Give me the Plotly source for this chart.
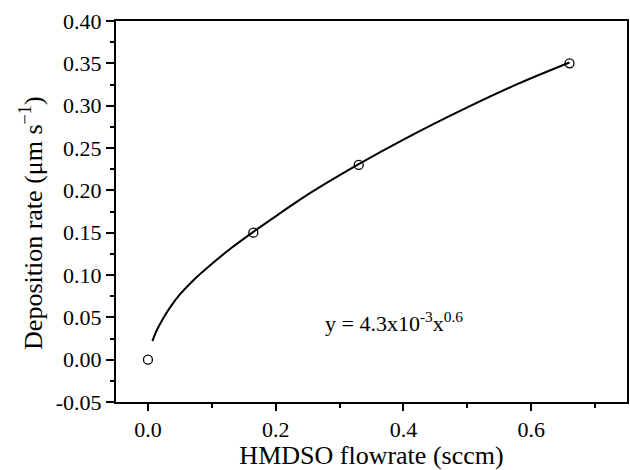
import plotly.graph_objects as go

# measured data points
flow = [0.0, 0.165, 0.33, 0.66]
rate = [0.0, 0.15, 0.23, 0.35]

# fit curve
fit_x = [0.007, 0.014, 0.024, 0.035, 0.05, 0.07, 0.092, 0.129, 0.165, 0.207, 0.25, 0.33, 0.40, 0.50, 0.58, 0.66]
fit_y = [0.022, 0.035, 0.049, 0.062, 0.077, 0.093, 0.108, 0.131, 0.151, 0.173, 0.195, 0.231, 0.260, 0.298, 0.326, 0.351]

x_ticks = [0.0, 0.2, 0.4, 0.6]
x_labels = ["0.0", "0.2", "0.4", "0.6"]
y_ticks = [-0.05, 0.0, 0.05, 0.10, 0.15, 0.20, 0.25, 0.30, 0.35, 0.40]
y_labels = ["-0.05", "0.00", "0.05", "0.10", "0.15", "0.20", "0.25", "0.30", "0.35", "0.40"]

font = "Liberation Serif, Times New Roman, serif"

fig = go.Figure()
fig.add_trace(go.Scatter(x=fit_x, y=fit_y, mode="lines",
                         line=dict(color="black", width=2, shape="spline", smoothing=1),
                         showlegend=False, hoverinfo="skip"))
fig.add_trace(go.Scatter(x=flow, y=rate, mode="markers",
                         marker=dict(symbol="circle-open", size=9, color="black",
                                     line=dict(width=1.3, color="black")),
                         showlegend=False))

fig.add_annotation(x=0.385, y=0.045, xref="x", yref="y", xanchor="center", yanchor="middle",
                   text="y = 4.3x10<sup>-3</sup>x<sup>0.6</sup>", showarrow=False,
                   font=dict(family=font, size=22, color="black"))

# y-axis title (placed as a rotated annotation to match the reference position)
fig.add_annotation(x=(32 - 116) / (630 - 116 - 3), y=0.47, xref="paper", yref="paper",
                   xanchor="center", yanchor="middle",
                   text="Deposition rate (μm s<sup>−1</sup>)", showarrow=False, textangle=-90,
                   font=dict(family=font, size=26, color="black"))

axis_common = dict(showgrid=False, zeroline=False, showline=True, linecolor="black",
                   linewidth=2, mirror=True, ticks="outside", tickcolor="black",
                   tickwidth=2, automargin=False,
                   tickfont=dict(family=font, size=22, color="black"))

fig.update_xaxes(range=[-0.05, 0.75], tickvals=x_ticks, ticktext=x_labels, ticklen=7,
                 minor=dict(ticks="outside", dtick=0.1, tick0=0.1, ticklen=4,
                            tickwidth=2, tickcolor="black"),
                 title=dict(text="HMDSO flowrate (sccm)", standoff=0,
                            font=dict(family=font, size=26, color="black")),
                 **axis_common)
fig.update_yaxes(range=[-0.05, 0.40], tickvals=y_ticks, ticktext=y_labels, ticklen=8,
                 minor=dict(ticks="outside", dtick=0.025, tick0=0, ticklen=4,
                            tickwidth=2, tickcolor="black"),
                 **axis_common)

fig.update_layout(width=630, height=470, margin=dict(l=116, r=3, t=21, b=68),
                  plot_bgcolor="white", paper_bgcolor="white")

fig.write_html("out.html", config={"displayModeBar": False},
               post_script="document.body.style.margin='0';")
